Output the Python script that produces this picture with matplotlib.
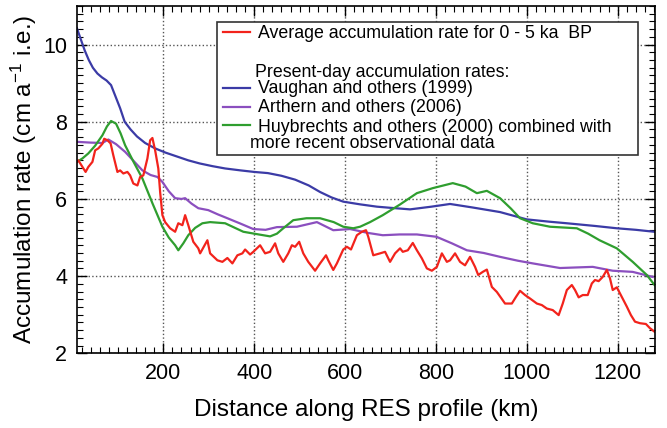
import matplotlib
matplotlib.use('Agg')
import matplotlib.pyplot as plt
from matplotlib.patches import Rectangle
from matplotlib.ticker import MultipleLocator

plt.rcParams['font.family'] = ['Liberation Sans', 'DejaVu Sans']
plt.rcParams['mathtext.default'] = 'regular'

# Distance along profile (km) and accumulation rate (cm a-1 i.e.)
red_x = [10, 13, 20, 29, 35, 44, 50, 57, 66, 70, 77, 84, 90, 99, 105, 112, 121, 127, 134,
         143, 149, 156, 165, 171, 176, 182, 189, 193, 198, 204, 215, 226, 233, 242, 248,
         255, 266, 277, 281, 297, 303, 319, 330, 341, 352, 363, 374, 380, 391, 398, 413,
         424, 435, 446, 453, 464, 475, 483, 490, 499, 508, 519, 534, 545, 558, 563, 574,
         582, 596, 604, 613, 626, 637, 646, 651, 662, 677, 688, 699, 710, 721, 727, 738,
         749, 758, 769, 780, 791, 802, 813, 824, 831, 842, 853, 864, 875, 886, 893, 903,
         912, 923, 934, 952, 967, 976, 985, 996, 1007, 1022, 1033, 1044, 1057, 1070, 1079,
         1088, 1099, 1106, 1114, 1123, 1134, 1143, 1150, 1158, 1167, 1176, 1183, 1189,
         1198, 1209, 1220, 1229, 1238, 1249, 1262, 1271, 1281]
red_y = [6.96, 7.0, 6.87, 6.70, 6.83, 6.96, 7.26, 7.31, 7.43, 7.56, 7.52, 7.44, 7.13, 6.70,
         6.74, 6.66, 6.70, 6.61, 6.40, 6.35, 6.57, 6.61, 7.05, 7.52, 7.58, 7.26, 6.79, 6.18,
         5.58, 5.40, 5.24, 5.15, 5.37, 5.32, 5.58, 5.32, 4.89, 4.72, 4.59, 4.93, 4.59, 4.41,
         4.37, 4.47, 4.33, 4.54, 4.59, 4.69, 4.56, 4.63, 4.80, 4.59, 4.63, 4.85, 4.59, 4.37,
         4.59, 4.80, 4.76, 4.89, 4.59, 4.37, 4.14, 4.33, 4.54, 4.41, 4.16, 4.33, 4.69, 4.76,
         4.69, 5.06, 5.15, 5.19, 5.02, 4.54, 4.59, 4.63, 4.37, 4.59, 4.72, 4.63, 4.67, 4.86,
         4.67, 4.46, 4.20, 4.14, 4.24, 4.59, 4.37, 4.41, 4.59, 4.37, 4.28, 4.50, 4.24, 4.03,
         4.11, 4.17, 3.72, 3.59, 3.29, 3.29, 3.46, 3.62, 3.51, 3.42, 3.29, 3.25, 3.16, 3.12,
         2.99, 3.29, 3.64, 3.77, 3.64, 3.45, 3.51, 3.51, 3.81, 3.90, 3.87, 3.98, 4.16, 3.94,
         3.64, 3.71, 3.46, 3.21, 2.99, 2.82, 2.78, 2.76, 2.65, 2.56]

blue_x = [10, 18, 27, 36, 45, 55, 65, 75, 85, 95, 105, 115, 128, 142, 160, 182, 205, 230,
          255, 280, 308, 336, 370, 400, 430, 460, 490, 520, 545, 570, 596, 633, 670, 700,
          743, 790, 831, 880, 941, 1000, 1050, 1088, 1150, 1198, 1240, 1280]
blue_y = [10.42, 10.15, 9.85, 9.6, 9.4, 9.25, 9.15, 9.07, 8.95, 8.65, 8.35, 8.0, 7.8, 7.62,
          7.45, 7.31, 7.2, 7.1, 7.0, 6.92, 6.85, 6.79, 6.74, 6.70, 6.67, 6.6, 6.5, 6.35,
          6.18, 6.04, 5.93, 5.86, 5.8, 5.77, 5.73, 5.8, 5.87, 5.78, 5.66, 5.47, 5.41, 5.37,
          5.30, 5.24, 5.2, 5.15]

purple_x = [10, 40, 66, 79, 96, 116, 135, 154, 172, 187, 198, 212, 226, 240, 248, 262, 277,
            299, 320, 341, 370, 398, 425, 450, 494, 538, 574, 611, 650, 683, 720, 758, 801,
            835, 868, 905, 941, 980, 1013, 1073, 1145, 1189, 1233, 1277]
purple_y = [7.48, 7.46, 7.45, 7.54, 7.42, 7.22, 6.98, 6.74, 6.62, 6.57, 6.44, 6.2, 6.02,
            6.0, 6.02, 5.88, 5.76, 5.71, 5.6, 5.5, 5.36, 5.22, 5.2, 5.27, 5.28, 5.40, 5.19,
            5.22, 5.12, 5.06, 5.08, 5.08, 5.02, 4.85, 4.67, 4.6, 4.50, 4.4, 4.33, 4.21, 4.24,
            4.14, 4.11, 3.98]

green_x = [10, 22, 35, 50, 66, 76, 85, 96, 106, 116, 135, 154, 176, 198, 212, 226, 233, 244,
           255, 270, 286, 303, 336, 376, 410, 435, 450, 464, 486, 515, 545, 575, 596, 618,
           633, 655, 683, 720, 758, 793, 837, 865, 890, 912, 941, 965, 985, 1013, 1051,
           1110, 1135, 1160, 1198, 1233, 1264, 1281]
green_y = [6.96, 7.05, 7.18, 7.38, 7.65, 7.88, 8.02, 7.95, 7.7, 7.39, 6.95, 6.53, 5.89,
           5.28, 5.0, 4.80, 4.67, 4.85, 5.06, 5.25, 5.37, 5.40, 5.37, 5.15, 5.08, 5.03,
           5.1, 5.24, 5.45, 5.5, 5.5, 5.4, 5.28, 5.24, 5.28, 5.4, 5.58, 5.85, 6.15, 6.28,
           6.41, 6.32, 6.15, 6.21, 6.02, 5.75, 5.5, 5.37, 5.28, 5.24, 5.1, 4.93, 4.72, 4.37,
           4.03, 3.77]

fig = plt.figure(figsize=(6.67, 4.28), dpi=100)
ax = fig.add_axes([0.1154, 0.1745, 0.8666, 0.8115])

ax.plot(blue_x, blue_y, color='#3b3ba6', lw=1.6)
ax.plot(purple_x, purple_y, color='#8b4fbf', lw=1.6)
ax.plot(green_x, green_y, color='#2f9e2f', lw=1.6)
ax.plot(red_x, red_y, color='#f2231c', lw=1.6)

ax.set_xlim(10, 1282)
ax.set_ylim(2, 11)
ax.xaxis.set_major_locator(MultipleLocator(200))
ax.xaxis.set_minor_locator(MultipleLocator(20))
ax.yaxis.set_major_locator(MultipleLocator(2))
ax.yaxis.set_minor_locator(MultipleLocator(0.2))
ax.tick_params(which='both', direction='in', top=True, right=True, labelsize=15.5, pad=7)
ax.tick_params(which='major', length=7, width=1)
ax.tick_params(which='minor', length=4, width=0.8)
ax.grid(True, which='major', linestyle=':', color='#555555', lw=1)
for s in ax.spines.values():
    s.set_linewidth(1.2)

ax.set_xlabel('Distance along RES profile (km)', fontsize=17.5, labelpad=11)
ax.set_ylabel('Accumulation rate (cm a$^{-1}$ i.e.)', fontsize=17.5, labelpad=3)

# legend box drawn by hand to follow the original layout
ax.add_patch(Rectangle((0.2422, 0.571), 0.7284, 0.383, transform=ax.transAxes,
                       facecolor='white', edgecolor='#333333', lw=1.2, zorder=5))
rows = [(0.9251, 0.9079, '#f2231c', 'Average accumulation rate for 0 - 5 ka  BP'),
        (0.7639, 0.7495, '#3b3ba6', 'Vaughan and others (1999)'),
        (0.7092, 0.6948, '#8b4fbf', 'Arthern and others (2006)'),
        (0.6573, 0.6372, '#2f9e2f', 'Huybrechts and others (2000) combined with')]
for ly, ty, c, t in rows:
    ax.plot([0.2526, 0.2993], [ly, ly], color=c, lw=1.6, transform=ax.transAxes, zorder=6)
    ax.text(0.313, ty, t, transform=ax.transAxes, fontsize=12.8, va='baseline', zorder=6)
ax.text(0.308, 0.7956, 'Present-day accumulation rates:', transform=ax.transAxes,
        fontsize=12.8, va='baseline', zorder=6)
ax.text(0.2993, 0.5911, 'more recent observational data', transform=ax.transAxes,
        fontsize=12.8, va='baseline', zorder=6)

fig.savefig('out.png', dpi=100)
